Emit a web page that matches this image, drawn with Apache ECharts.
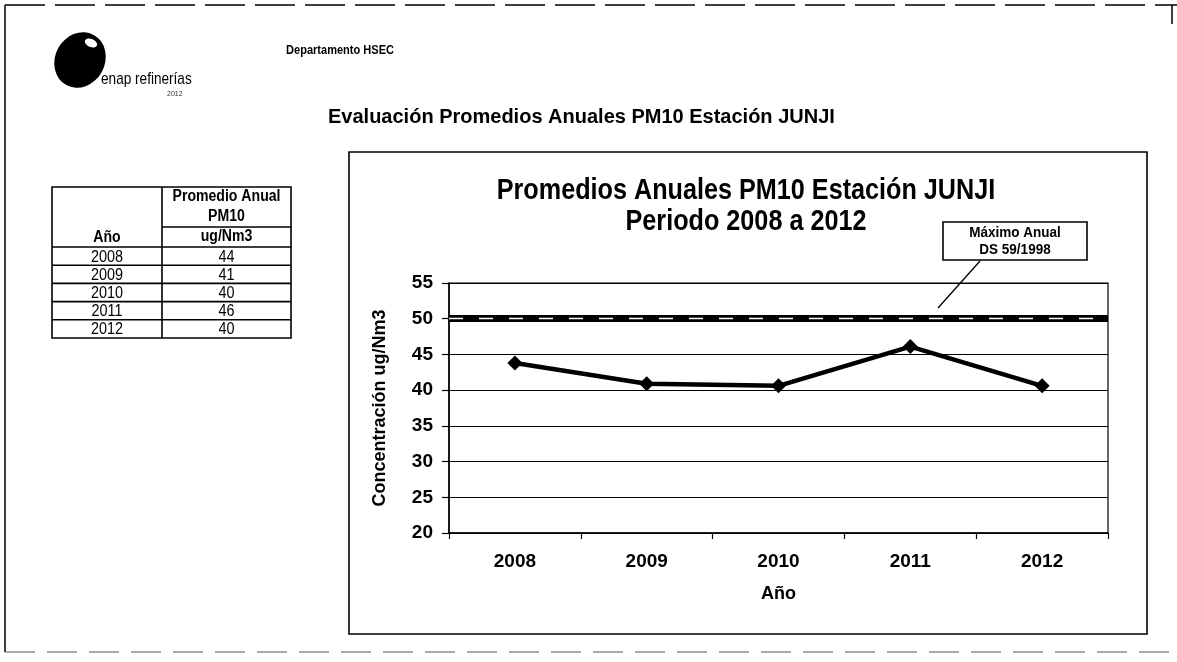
<!DOCTYPE html>
<html>
<head>
<meta charset="utf-8">
<script src="https://cdn.jsdelivr.net/npm/echarts@6/dist/echarts.min.js"></script>
<style>
html,body{margin:0;padding:0;background:#fff;}
#chart{width:1177px;height:662px;}
</style>
</head>
<body>
<div id="chart"></div>
<script>
// ---- data ----
const anios = ['2008', '2009', '2010', '2011', '2012'];
const promedioSerie = [43.8, 40.9, 40.6, 46.1, 40.6];
const promedioTabla = [44, 41, 40, 46, 40];
const maximoAnual = 50;
const yTicks = [20, 25, 30, 35, 40, 45, 50, 55];

const F = "'Liberation Sans', Arial, sans-serif";

const chart = echarts.init(document.getElementById('chart'), null, {renderer: 'canvas'});

// table graphics built from arrays
const tX0 = 52, tX1 = 162, tX2 = 291, tTop = 187, tHead = 247, rowH = 18.2;
const tableEls = [];
const ls = {stroke: '#000', lineWidth: 1.6};
tableEls.push({type: 'rect', shape: {x: tX0, y: tTop, width: tX2 - tX0, height: tHead + rowH * anios.length - tTop}, style: {fill: 'none', stroke: '#000', lineWidth: 1.6}});
tableEls.push({type: 'line', shape: {x1: tX1, y1: tTop, x2: tX1, y2: tHead + rowH * anios.length}, style: ls});
tableEls.push({type: 'line', shape: {x1: tX1, y1: 227, x2: tX2, y2: 227}, style: ls});
for (let i = 0; i < anios.length; i++) {
  const y = tHead + rowH * i;
  tableEls.push({type: 'line', shape: {x1: tX0, y1: y, x2: tX2, y2: y}, style: ls});
  tableEls.push({type: 'text', x: (tX0 + tX1) / 2, y: y + rowH / 2 + 1, scaleX: 0.9, style: {text: anios[i], font: '16px ' + F, fill: '#000', align: 'center', verticalAlign: 'middle'}});
  tableEls.push({type: 'text', x: (tX1 + tX2) / 2, y: y + rowH / 2 + 1, scaleX: 0.9, style: {text: String(promedioTabla[i]), font: '16px ' + F, fill: '#000', align: 'center', verticalAlign: 'middle'}});
}
const hdr = (t, x, y) => ({type: 'text', x: x, y: y, scaleX: 0.88, style: {text: t, font: 'bold 16px ' + F, fill: '#000', align: 'center', verticalAlign: 'middle'}});
tableEls.push(hdr('Promedio Anual', (tX1 + tX2) / 2, 197));
tableEls.push(hdr('PM10', (tX1 + tX2) / 2, 217));
tableEls.push(hdr('ug/Nm3', (tX1 + tX2) / 2, 237));
tableEls.push(hdr('Año', (tX0 + tX1) / 2, 238));

const option = {
  backgroundColor: '#fff',
  animation: false,
  textStyle: {fontFamily: F},
  grid: {left: 449, top: 283, width: 659, height: 250, show: true, borderColor: '#000', borderWidth: 1.2, backgroundColor: 'transparent'},
  xAxis: {
    type: 'category',
    data: anios,
    boundaryGap: true,
    name: 'Año',
    nameLocation: 'middle',
    nameGap: 52,
    nameTextStyle: {fontFamily: F, fontWeight: 'bold', fontSize: 18, color: '#000'},
    axisLine: {show: true, lineStyle: {color: '#000', width: 1.5}},
    axisTick: {show: true, alignWithLabel: false, length: 6, lineStyle: {color: '#000', width: 1.2}},
    axisLabel: {fontFamily: F, fontWeight: 'bold', fontSize: 19, color: '#000', margin: 19},
    splitLine: {show: false}
  },
  yAxis: {
    type: 'value',
    min: 20, max: 55, interval: 5,
    name: 'Concentración ug/Nm3',
    nameLocation: 'middle',
    nameRotate: 90,
    nameGap: 60,
    nameTextStyle: {fontFamily: F, fontWeight: 'bold', fontSize: 18, color: '#000'},
    axisLine: {show: true, lineStyle: {color: '#000', width: 1.5}},
    axisTick: {show: true, length: 7, lineStyle: {color: '#000', width: 1.2}},
    axisLabel: {fontFamily: F, fontWeight: 'bold', fontSize: 19, color: '#000', margin: 16,
      formatter: v => yTicks.indexOf(v) >= 0 ? String(v) : ''},
    splitLine: {show: true, lineStyle: {color: '#000', width: 1.2}}
  },
  series: [
    {
      name: 'Máximo Anual DS 59/1998',
      type: 'line',
      data: [],
      silent: true,
      markLine: {
        silent: true,
        symbol: 'none',
        label: {show: false},
        data: [
          {yAxis: maximoAnual, lineStyle: {color: '#000', width: 7, type: 'solid'}},
          {yAxis: maximoAnual, lineStyle: {color: '#fff', width: 1.4, type: [14, 16]}}
        ]
      }
    },
    {
      name: 'Promedio Anual PM10',
      type: 'line',
      data: promedioSerie,
      z: 5,
      lineStyle: {color: '#000', width: 4.5},
      itemStyle: {color: '#000'},
      symbol: 'diamond',
      symbolSize: 15,
      showSymbol: true
    }
  ],
  graphic: [
    // outer page frame
    {type: 'line', shape: {x1: 5, y1: 5, x2: 5, y2: 652}, style: {stroke: '#000', lineWidth: 1.5}},
    {type: 'line', shape: {x1: 5, y1: 5, x2: 1177, y2: 5}, style: {stroke: '#000', lineWidth: 1.5, lineDash: [40, 10]}},
    {type: 'line', shape: {x1: 1172, y1: 5, x2: 1172, y2: 24}, style: {stroke: '#000', lineWidth: 1.5}},
    {type: 'line', shape: {x1: 5, y1: 652, x2: 1177, y2: 652}, style: {stroke: '#555', lineWidth: 1.2, lineDash: [30, 12]}},
    // logo
    {type: 'circle', x: 80, y: 60, scaleX: 0.92, scaleY: 1.06, rotation: -0.5, shape: {cx: 0, cy: 0, r: 27}, style: {fill: '#000'}},
    {type: 'circle', x: 91, y: 43, scaleX: 1.3, scaleY: 0.8, rotation: -0.4, shape: {cx: 0, cy: 0, r: 5}, style: {fill: '#fff'}},
    {type: 'text', x: 101, y: 79, scaleX: 0.8, style: {text: 'enap refinerías', font: '17px ' + F, fill: '#000', verticalAlign: 'middle'}},
    {type: 'text', x: 167, y: 94, style: {text: '2012', font: '7px ' + F, fill: '#333', verticalAlign: 'middle'}},
    // header texts
    {type: 'text', x: 286, y: 50, scaleX: 0.85, style: {text: 'Departamento HSEC', font: 'bold 13px ' + F, fill: '#000', verticalAlign: 'middle'}},
    {type: 'text', x: 328, y: 117, style: {text: 'Evaluación Promedios Anuales PM10 Estación JUNJI', font: 'bold 20px ' + F, fill: '#000', verticalAlign: 'middle'}},
    // chart box
    {type: 'rect', shape: {x: 349, y: 152, width: 798, height: 482}, style: {fill: 'none', stroke: '#000', lineWidth: 1.6}, z: -1},
    {type: 'text', x: 746, y: 191, scaleX: 0.84, style: {text: 'Promedios Anuales PM10 Estación JUNJI', font: 'bold 30px ' + F, fill: '#000', align: 'center', verticalAlign: 'middle'}},
    {type: 'text', x: 746, y: 222, scaleX: 0.84, style: {text: 'Periodo 2008 a 2012', font: 'bold 30px ' + F, fill: '#000', align: 'center', verticalAlign: 'middle'}},
    // annotation
    {type: 'line', shape: {x1: 980, y1: 261, x2: 938, y2: 308}, style: {stroke: '#000', lineWidth: 1.3}, z: 10},
    {type: 'rect', shape: {x: 943, y: 222, width: 144, height: 38}, style: {fill: '#fff', stroke: '#000', lineWidth: 1.6}, z: 10},
    {type: 'text', x: 1015, y: 233, z: 11, scaleX: 0.9, style: {text: 'Máximo Anual', font: 'bold 15px ' + F, fill: '#000', align: 'center', verticalAlign: 'middle'}},
    {type: 'text', x: 1015, y: 250, z: 11, scaleX: 0.9, style: {text: 'DS 59/1998', font: 'bold 15px ' + F, fill: '#000', align: 'center', verticalAlign: 'middle'}}
  ].concat(tableEls)
};
chart.setOption(option);
</script>
</body>
</html>
